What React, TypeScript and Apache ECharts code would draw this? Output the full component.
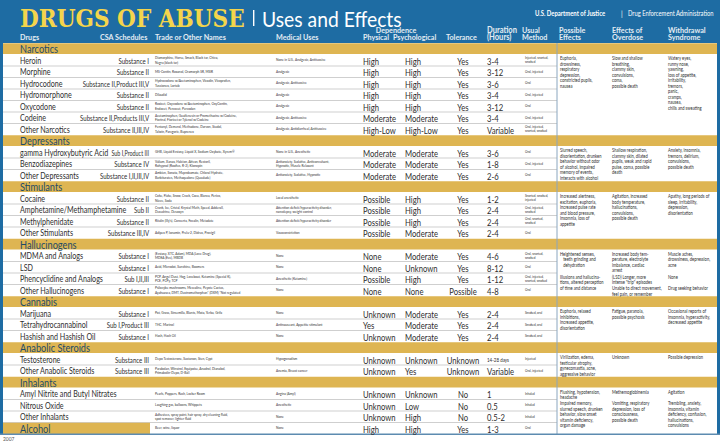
import React, { useEffect, useRef } from 'react';
import * as echarts from 'echarts';

// ---------- DATA ----------
const categoryNames = ['Narcotics', 'Depressants', 'Stimulants', 'Hallucinogens', 'Cannabis', 'Anabolic Steroids', 'Inhalants'];

const drugNames = [
  'Heroin', 'Morphine', 'Hydrocodone', 'Hydromorphone', 'Oxycodone', 'Codeine', 'Other Narcotics',
  'gamma Hydroxybutyric Acid', 'Benzodiazepines', 'Other Depressants',
  'Cocaine', 'Amphetamine/Methamphetamine', 'Methylphenidate', 'Other Stimulants',
  'MDMA and Analogs', 'LSD', 'Phencyclidine and Analogs', 'Other Hallucinogens',
  'Marijuana', 'Tetrahydrocannabinol', 'Hashish and Hashish Oil',
  'Testosterone', 'Other Anabolic Steroids',
  'Amyl Nitrite and Butyl Nitrates', 'Nitrous Oxide', 'Other Inhalants',
  'Alcohol',
];

// index into categoryNames; 7 = Alcohol (own label cell, no band)
const drugGroup = [0, 0, 0, 0, 0, 0, 0, 1, 1, 1, 2, 2, 2, 2, 3, 3, 3, 3, 4, 4, 4, 5, 5, 6, 6, 6, 7];

const csaSchedules = [
  'Substance I', 'Substance II', 'Substance II,Product III,V', 'Substance II', 'Substance II', 'Substance II,Products III,V', 'Substance II,III,IV',
  'Sub I,Product III', 'Substance IV', 'Substance I,II,III,IV',
  'Substance II', 'Sub II', 'Substance II', 'Substance III,IV',
  'Substance I', 'Substance I', 'Sub I,II,III', 'Substance I',
  'Substance I', 'Sub I,Product III', 'Substance I',
  'Substance III', 'Substance III',
  '', '', '',
  '',
];

const tradeNames = [
  'Diamorphine, Horse, Smack, Black tar, Chiva,\nNegra (black tar)',
  'MS-Contin, Roxanol, Oramorph SR, MSIR',
  'Hydrocodone w/Acetaminophen, Vicodin, Vicoprofen,\nTussionex, Lortab',
  'Dilaudid',
  'Roxicet, Oxycodone w/Acetaminophen, OxyContin,\nEndocet, Percocet, Percodan',
  'Acetaminophen, Guaifenesin or Promethazine w/Codeine,\nFiorinal, Fioricet or Tylenol w/Codeine',
  'Fentanyl, Demerol, Methadone, Darvon, Stadol,\nTalwin, Paregoric, Buprenex',
  'GHB, Liquid Ecstasy, Liquid X, Sodium Oxybate, Xyrem®',
  'Valium, Xanax, Halcion, Ativan, Restoril,\nRohypnol (Roofies, R-2), Klonopin',
  'Ambien, Sonata, Meprobamate, Chloral Hydrate,\nBarbiturates, Methaqualone (Quaalude)',
  'Coke, Flake, Snow, Crack, Coca, Blanca, Perico,\nNieve, Soda',
  'Crank, Ice, Cristal, Krystal Meth, Speed, Adderall,\nDexedrine, Desoxyn',
  "Ritalin (Illy's), Concerta, Focalin, Metadate",
  'Adipex P, Ionamin, Prelu-2, Didrex, Provigil',
  '(Ecstasy, XTC, Adam), MDA (Love Drug),\nMDEA (Eve), MBDB',
  'Acid, Microdot, Sunshine, Boomers',
  'PCP, Angel Dust, Hog, Loveboat, Ketamine (Special K),\nPCE, PCPy, TCP',
  'Psilocybe mushrooms, Mescaline, Peyote Cactus,\nAyahuasca, DMT, Dextromethorphan* (DXM) *Not regulated',
  'Pot, Grass, Sinsemilla, Blunts, Mota, Yerba, Grifa',
  'THC, Marinol',
  'Hash, Hash Oil',
  'Depo Testosterone, Sustanon, Sten, Cypt',
  'Parabolan, Winstrol, Equipoise, Anadrol, Dianabol,\nPrimabolin-Depo, D-Ball',
  'Pearls, Poppers, Rush, Locker Room',
  'Laughing gas, balloons, Whippets',
  'Adhesives, spray paint, hair spray, dry cleaning fluid,\nspot remover, lighter fluid',
  'Beer, wine, liquor',
];

const medicalUses = [
  'None in U.S., Analgesic, Antitussive', 'Analgesic', 'Analgesic, Antitussive', 'Analgesic', 'Analgesic',
  'Analgesic, Antitussive', 'Analgesic, Antidiarrheal, Antitussive',
  'None in U.S., Anesthetic', 'Antianxiety, Sedative, Anticonvulsant,\nHypnotic, Muscle Relaxant', 'Antianxiety, Sedative, Hypnotic',
  'Local anesthetic', 'Attention deficit/hyperactivity disorder,\nnarcolepsy, weight control', 'Attention deficit/hyperactivity disorder', 'Vasoconstriction',
  'None', 'None', 'Anesthetic (Ketamine)', 'None',
  'None', 'Antinauseant, Appetite stimulant', 'None',
  'Hypogonadism', 'Anemia, Breast cancer',
  'Angina (Amyl)', 'Anesthetic', 'None',
  'None',
];

const physicalDependence = [
  'High', 'High', 'High', 'High', 'High', 'Moderate', 'High-Low',
  'Moderate', 'Moderate', 'Moderate',
  'Possible', 'Possible', 'Possible', 'Possible',
  'None', 'None', 'Possible', 'None',
  'Unknown', 'Yes', 'Unknown',
  'Unknown', 'Unknown',
  'Unknown', 'Unknown', 'Unknown',
  'High',
];

const psychologicalDependence = [
  'High', 'High', 'High', 'High', 'High', 'Moderate', 'High-Low',
  'Moderate', 'Moderate', 'Moderate',
  'High', 'High', 'High', 'Moderate',
  'Moderate', 'Unknown', 'High', 'None',
  'Moderate', 'Moderate', 'Moderate',
  'Unknown', 'Yes',
  'Unknown', 'Low', 'High',
  'High',
];

const tolerance = [
  'Yes', 'Yes', 'Yes', 'Yes', 'Yes', 'Yes', 'Yes',
  'Yes', 'Yes', 'Yes',
  'Yes', 'Yes', 'Yes', 'Yes',
  'Yes', 'Yes', 'Yes', 'Possible',
  'Yes', 'Yes', 'Yes',
  'Unknown', 'Unknown',
  'No', 'No', 'No',
  'Yes',
];

const durationHours = [
  '3-4', '3-12', '3-6', '3-4', '3-12', '3-4', 'Variable',
  '3-6', '1-8', '2-6',
  '1-2', '2-4', '2-4', '2-4',
  '4-6', '8-12', '1-12', '4-8',
  '2-4', '2-4', '2-4',
  '14-28 days', 'Variable',
  '1', '0.5', '0.5-2',
  '1-3',
];

const usualMethod = [
  'Injected, snorted,\nsmoked', 'Oral, injected', 'Oral', 'Oral, injected', 'Oral', 'Oral, injected', 'Oral, injected,\nsnorted, smoked',
  'Oral', 'Oral, injected', 'Oral',
  'Snorted, smoked,\ninjected', 'Oral, injected,\nsmoked', 'Oral, snorted,\nsmoked', 'Oral',
  'Oral, snorted,\nsmoked', 'Oral', 'Oral, injected,\nsnorted, smoked', 'Oral',
  'Smoked, oral', 'Smoked, oral', 'Smoked, oral',
  'Injected', 'Oral, injected',
  'Inhaled', 'Inhaled', 'Inhaled',
  'Oral',
];

// [first drug row index, text]
const possibleEffects: [number, string][] = [
  [0, 'Euphoria,\ndrowsiness,\nrespiratory\ndepression,\nconstricted pupils,\nnausea'],
  [7, 'Slurred speech,\ndisorientation, drunken\nbehavior without odor\nof alcohol, impaired\nmemory of events,\ninteracts with alcohol'],
  [10, 'Increased alertness,\nexcitation, euphoria,\nincreased pulse rate\nand blood pressure,\ninsomnia, loss of\nappetite'],
  [14, 'Heightened senses,\n   teeth grinding and\n   dehydration'],
  [16, 'Illusions and hallucina-\ntions, altered perception\nof time and distance'],
  [18, 'Euphoria, relaxed\ninhibitions,\nincreased appetite,\ndisorientation'],
  [21, 'Virilization, edema,\ntesticular atrophy,\ngynecomastia, acne,\naggressive behavior'],
  [23, 'Flushing, hypotension,\nheadache'],
  [24, 'Impaired memory,\nslurred speech, drunken\nbehavior, slow onset\nvitamin deficiency,\norgan damage'],
];

const overdoseEffects: [number, string][] = [
  [0, 'Slow and shallow\nbreathing,\nclammy skin,\nconvulsions,\ncoma,\npossible death'],
  [7, 'Shallow respiration,\nclammy skin, dilated\npupils, weak and rapid\npulse, coma, possible\ndeath'],
  [10, 'Agitation, increased\nbody temperature,\nhallucinations,\nconvulsions,\npossible death'],
  [14, 'Increased body tem-\nperature, electrolyte\nimbalance, cardiac\narrest'],
  [16, '(LSD) Longer, more\nintense "trip" episodes'],
  [17, 'Unable to direct movement,\nfeel pain, or remember'],
  [18, 'Fatigue, paranoia,\npossible psychosis'],
  [21, 'Unknown'],
  [23, 'Methemoglobinemia'],
  [24, 'Vomiting, respiratory\ndepression, loss of\nconsciousness,\npossible death'],
];

const withdrawalSyndrome: [number, string][] = [
  [0, 'Watery eyes,\nrunny nose,\nyawning,\nloss of appetite,\nirritability,\ntremors,\npanic,\ncramps,\nnausea,\nchills and sweating'],
  [7, 'Anxiety, insomnia,\ntremors, delirium,\nconvulsions,\npossible death'],
  [10, 'Apathy, long periods of\nsleep, irritability,\ndepression,\ndisorientation'],
  [14, 'Muscle aches,\ndrowsiness, depression,\nacne'],
  [16, 'None'],
  [17, 'Drug seeking behavior'],
  [18, 'Occasional reports of\ninsomnia, hyperactivity,\ndecreased appetite'],
  [21, 'Possible depression'],
  [23, 'Agitation'],
  [24, 'Trembling, anxiety,\ninsomnia, vitamin\ndeficiency, confusion,\nhallucinations,\nconvulsions'],
];

// ---------- STYLE / LAYOUT ----------
const W = 720;
const H = 443;
const TOP = 43;
const BAND_H = 11.5;
const ROW_H = 11.5;
const LEFT = 3;
const RIGHT = 717;
const SPLIT_X = 557;
const BLUE = '#1e6ca3';
const GOLD = '#deb552';
const CAT_TEXT = '#1d4b68';
const BODY = '#2e2e2e';
const FONT = 'Lato, "Noto Sans", sans-serif';

const NAME_X = 20;
const CSA_RIGHT = 149;
const NAME_SIZE = 9.4;
const NAME_SX = 0.76;
const CSA_SIZE = 7.6;
const CSA_SX = 0.8;

function measure(text: string, size: number, weight = 'normal') {
  try {
    const t = new (echarts.graphic as any).Text({ style: { text, fontSize: size, fontFamily: FONT, fontWeight: weight } });
    return t.getBoundingRect().width;
  } catch (e) {
    return text.length * size * 0.5;
  }
}

function txt(x: number, y: number, text: string, size: number, o: any = {}) {
  return {
    type: 'text',
    x,
    y,
    scaleX: o.sx ?? 0.82,
    silent: true,
    z: 10,
    style: {
      text,
      fontSize: size,
      fontFamily: o.ff ?? FONT,
      fontWeight: o.fw ?? 'normal',
      fill: o.fill ?? BODY,
      align: o.align ?? 'left',
      verticalAlign: o.va ?? 'middle',
      lineHeight: o.lh ?? size * 1.15,
    },
  };
}

function rect(x: number, y: number, w: number, h: number, fill: string, z = 1) {
  return { type: 'rect', silent: true, z, shape: { x, y, width: w, height: h }, style: { fill } };
}

function line(x1: number, y1: number, x2: number, y2: number, stroke: string, lw = 1, z = 2) {
  return { type: 'line', silent: true, z, shape: { x1, y1, x2, y2 }, style: { stroke, lineWidth: lw } };
}

function buildGraphic() {
  const els: any[] = [];
  const rowTop: number[] = [];
  const bandTop: number[] = [];
  let y = TOP;
  let prev = -1;
  drugGroup.forEach((g, i) => {
    if (g !== prev && g < categoryNames.length) {
      bandTop[g] = y;
      y += BAND_H;
    }
    prev = g;
    rowTop[i] = y;
    y += ROW_H;
  });
  const bottom = y;

  // backgrounds and frame
  els.push(rect(0, 0, W, H, '#ffffff', 0));
  els.push(rect(0, 0, W, TOP, BLUE, 1));
  els.push(rect(0, 0, LEFT, bottom, BLUE, 5));
  els.push(rect(RIGHT, 0, W - RIGHT, bottom, BLUE, 5));
  els.push(rect(0, bottom - 0.5, W, 1.5, '#5d8bb0', 5));

  // row separators
  drugNames.forEach((_, i) => {
    if (i < drugNames.length - 1 && (drugGroup[i + 1] === drugGroup[i] || drugGroup[i + 1] >= categoryNames.length)) {
      els.push(line(LEFT, rowTop[i] + ROW_H, SPLIT_X, rowTop[i] + ROW_H, '#cfcfcf', 1.2));
    }
  });

  // category bands
  categoryNames.forEach((name, g) => {
    els.push(rect(LEFT, bandTop[g] + 0.3, RIGHT - LEFT, BAND_H - 0.8, GOLD, 3));
    els.push(txt(NAME_X, bandTop[g] + BAND_H / 2, name, 11.5, { fill: CAT_TEXT, sx: 0.8 }));
  });

  // vertical divider
  els.push(line(SPLIT_X, TOP, SPLIT_X, bottom, '#8aa6bf', 1, 4));

  // rows
  drugNames.forEach((name, i) => {
    const cy = rowTop[i] + ROW_H / 2;
    if (drugGroup[i] >= categoryNames.length) {
      els.push(rect(LEFT, rowTop[i] + 0.3, 150 - LEFT, ROW_H - 0.3, GOLD, 3));
      els.push(txt(NAME_X, cy, name, 11.5, { fill: CAT_TEXT, sx: 0.8 }));
    } else {
      // fit name + schedule into the shared cell
      const csa = csaSchedules[i];
      const nameW = measure(name, NAME_SIZE) * NAME_SX;
      const csaW = csa ? measure(csa, CSA_SIZE) * CSA_SX : 0;
      const room = CSA_RIGHT - NAME_X - 3;
      let nameScale = 1;
      let csaScale = 1;
      if (csa && nameW + csaW > room) {
        csaScale = Math.max(0.42, (room - nameW) / csaW);
        const rest = room - csaW * csaScale;
        if (nameW > rest) nameScale = rest / nameW;
      }
      els.push(txt(NAME_X, cy, name, NAME_SIZE, { sx: NAME_SX * nameScale }));
      if (csa) els.push(txt(CSA_RIGHT, cy, csa, CSA_SIZE, { align: 'right', sx: CSA_SX * csaScale }));
    }
    els.push(txt(155, cy, tradeNames[i], 3.8, { sx: 0.85, lh: 4.4 }));
    els.push(txt(276, cy, medicalUses[i], 3.8, { sx: 0.85, lh: 4.4 }));
    els.push(txt(363, cy + 0.5, physicalDependence[i], 9.6, { sx: 0.8 }));
    els.push(txt(405, cy + 0.5, psychologicalDependence[i], 9.6, { sx: 0.8 }));
    els.push(txt(463, cy + 0.5, tolerance[i], 9.6, { align: 'center', sx: 0.8 }));
    const dur = durationHours[i];
    els.push(txt(487, cy + 0.5, dur, dur.length > 8 ? 5.6 : 9.6, { sx: 0.8 }));
    els.push(txt(525, cy, usualMethod[i], 3.6, { sx: 0.85, lh: 4.2 }));
  });

  // merged effect cells
  const effectCols: [number, [number, string][]][] = [
    [560, possibleEffects],
    [612, overdoseEffects],
    [668, withdrawalSyndrome],
  ];
  effectCols.forEach(([x, list]) => {
    list.forEach(([idx, text]) => {
      els.push(txt(x, rowTop[idx] + 1.2, text, 4.7, { va: 'top', lh: 5.5, sx: 0.87 }));
    });
  });

  // header texts
  els.push(txt(20, 19, 'DRUGS OF ABUSE', 24, { ff: '"DejaVu Serif", serif', fw: 'bold', fill: '#f4d54c', sx: 0.9 }));
  els.push(rect(253, 10, 1.4, 16, '#ffffff', 10));
  els.push(txt(262, 18.5, 'Uses and Effects', 21, { fill: '#ffffff', sx: 0.92 }));
  els.push(txt(535, 13.5, 'U.S. Department of Justice', 6.6, { fill: '#ffffff', fw: 'bold', sx: 0.9 }));
  els.push(txt(621, 13.5, '|', 6.6, { fill: '#ffffff', sx: 1 }));
  els.push(txt(628, 13.5, 'Drug Enforcement Administration', 6.6, { fill: '#ffffff', sx: 0.88 }));

  const hc = '#e4ecf3';
  const hb = { fill: hc, fw: 'bold', sx: 0.9 };
  els.push(txt(20, 36.5, 'Drugs', 8, hb));
  els.push(txt(100, 36.5, 'CSA Schedules', 8, hb));
  els.push(txt(155, 36.5, 'Trade or Other Names', 8, hb));
  els.push(txt(276, 36.5, 'Medical Uses', 8, hb));
  els.push(txt(396, 30, 'Dependence', 8, { ...hb, align: 'center' }));
  els.push(txt(363, 37, 'Physical', 8, hb));
  els.push(txt(393, 37, 'Psychological', 8, hb));
  els.push(txt(446, 36.5, 'Tolerance', 8, hb));
  const h2 = { ...hb, va: 'middle', lh: 7.5 };
  els.push(txt(487, 33.2, 'Duration\n(Hours)', 8.4, h2));
  els.push(txt(522, 33.2, 'Usual\nMethod', 8, h2));
  els.push(txt(559, 33.2, 'Possible\nEffects', 8, h2));
  els.push(txt(612, 33.2, 'Effects of\nOverdose', 8, h2));
  els.push(txt(668, 33.2, 'Withdrawal\nSyndrome', 8, h2));

  els.push(txt(3, 438.5, '2007', 5.5, { fill: '#555555', sx: 0.9 }));
  return els;
}

export default function App() {
  const ref = useRef<HTMLDivElement>(null);
  useEffect(() => {
    document.body.style.margin = '0';
    if (!ref.current) return;
    const chart = echarts.init(ref.current, null, { renderer: 'svg', width: W, height: H });
    chart.setOption({
      animation: false,
      backgroundColor: '#ffffff',
      graphic: { elements: buildGraphic() },
    });
    return () => chart.dispose();
  }, []);
  return <div ref={ref} style={{ width: W, height: H }} />;
}
